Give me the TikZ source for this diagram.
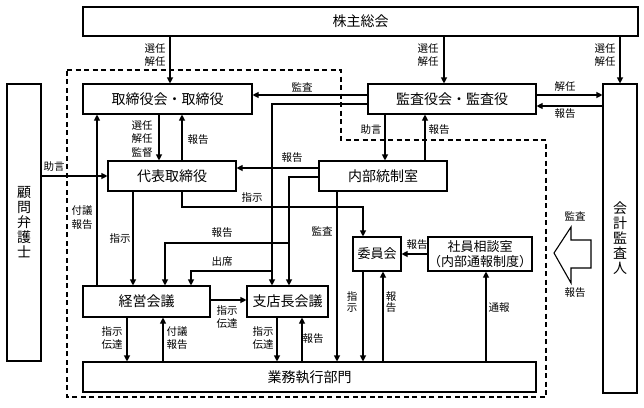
\documentclass[tikz,border=0pt]{standalone}
\usepackage{fontspec}
\newfontfamily\jp{Noto Sans CJK JP}
\usetikzlibrary{arrows.meta}
\begin{document}
\begin{tikzpicture}[x=1pt,y=-1pt,
  box/.style={draw,line width=1.1pt,fill=white,inner sep=0pt,font=\jp\fontsize{14}{15}\selectfont,align=center},
  sbox/.style={box,font=\jp\fontsize{13}{15}\selectfont},
  arr/.style={line width=1.1pt,-{Triangle[length=6pt,width=6pt]}},
  lbl/.style={inner sep=0pt,font=\jp\fontsize{10.5}{13.5}\selectfont,align=center},
  vlbl/.style={inner sep=0pt,font=\jp\fontsize{10.5}{11.5}\selectfont,align=center}]
\useasboundingbox (0,0) rectangle (644,407);
% dashed frame
\draw[line width=1.1pt,dash pattern=on 5pt off 3.5pt] (67,70) -- (341,70) -- (341,140) -- (546,140) -- (546,397) -- (67,397) -- cycle;
% boxes
\node[box,minimum width=555pt,minimum height=29pt] (kabu) at (360.5,21.5) {株主総会};
\node[box,minimum width=169pt,minimum height=30pt] (tori) at (167.5,99) {取締役会・取締役};
\node[box,minimum width=168pt,minimum height=30pt] (kansa) at (452,99) {監査役会・監査役};
\node[box,minimum width=34pt,minimum height=309pt] (kaikei) at (620,238.5) {会\\計\\監\\査\\人};
\node[box,minimum width=34pt,minimum height=277pt] (komon) at (24,222.5) {顧\\問\\弁\\護\\士};
\node[box,minimum width=128pt,minimum height=30pt] (daihyo) at (172,176) {代表取締役};
\node[box,minimum width=128pt,minimum height=30pt] (naibu) at (383,176) {内部統制室};
\node[box,minimum width=127pt,minimum height=31pt] (keiei) at (146.5,301.5) {経営会議};
\node[box,minimum width=81pt,minimum height=31pt] (shiten) at (287.5,301.5) {支店長会議};
\node[box,minimum width=453pt,minimum height=30pt] (gyomu) at (309.5,377) {業務執行部門};
\node[sbox,minimum width=48pt,minimum height=34pt] (iin) at (377,254) {委員会};
\node[sbox,minimum width=92pt,minimum height=34pt] (shain) at (480,254) {社員相談室\\（内部通報制度）};
% big hollow arrow
\draw[line width=1.1pt,fill=white] (554,253) -- (571,227) -- (571,240) -- (591,240) -- (591,268) -- (571,268) -- (571,283) -- cycle;
\node[lbl] (bk) at (575,216) {監査};
\node[lbl] (bh) at (575,293) {報告};
% connectors
\draw[arr] (kabu.south -| 170,0) -- (tori.north -| 170,0);
\node[lbl] at (155,55) {選任\\解任};
\draw[arr] (kabu.south -| 444,0) -- (kansa.north -| 444,0);
\node[lbl] at (428,55) {選任\\解任};
\draw[arr] (kabu.south -| kaikei.north) -- (kaikei.north);
\node[lbl] at (605,55) {選任\\解任};
\draw[arr] (kansa.west |- 0,95) -- (tori.east |- 0,95);
\node[lbl] at (302,87) {監査};
\draw[arr] (kansa.east |- 0,95) -- (kaikei.west |- 0,95);
\node[lbl] at (565,87) {解任};
\draw[arr] (kaikei.west |- 0,106) -- (kansa.east |- 0,106);
\node[lbl] at (565,114) {報告};
\draw[arr] (tori.south -| 159,0) -- (daihyo.north -| 159,0);
\node[lbl] at (142,139) {選任\\解任\\監督};
\draw[arr] (daihyo.north -| 182,0) -- (tori.south -| 182,0);
\node[lbl] at (198,140) {報告};
\draw[arr] (komon.east |- daihyo.west) -- (daihyo.west);
\node[lbl] at (54,167) {助言};
\draw[arr] (keiei.north -| 97,0) -- (tori.south -| 97,0);
\node[lbl] at (82,217.5) {付議\\報告};
\draw[arr] (daihyo.south -| 133,0) -- (keiei.north -| 133,0);
\node[lbl] at (120,239) {指示};
\draw[arr] (daihyo.south -| 182,0) -- (182,207) -- (363,207) -- (iin.north -| 363,0);
\node[lbl] at (252,198) {指示};
\draw[arr] (kansa.south -| 385,0) -- (naibu.north -| 385,0);
\node[lbl] at (371,130) {助言};
\draw[arr] (naibu.north -| 425,0) -- (kansa.south -| 425,0);
\node[lbl] at (439,130) {報告};
\draw[arr] (naibu.west |- 0,168) -- (daihyo.east |- 0,168);
\node[lbl] at (292,158) {報告};
\draw[arr] (kansa.west |- 0,104) -- (272,104) -- (shiten.north -| 272,0);
\draw[arr] (272,271) -- (191,271) -- (keiei.north -| 191,0);
\node[lbl] at (222,262) {出席};
\draw[arr] (naibu.west |- 0,177) -- (289,177) -- (shiten.north -| 289,0);
\draw[arr] (289,243) -- (165,243) -- (keiei.north -| 165,0);
\node[lbl] at (222,233) {報告};
\draw[arr] (naibu.south -| 337,0) -- (gyomu.north -| 337,0);
\node[lbl] at (322,231) {監査};
\draw[arr] (keiei.east |- 0,300) -- (shiten.west |- 0,300);
\node[lbl] at (227,317) {指示\\伝達};
\draw[arr] (keiei.south -| 127,0) -- (gyomu.north -| 127,0);
\node[lbl] at (112,338) {指示\\伝達};
\draw[arr] (gyomu.north -| 163,0) -- (keiei.south -| 163,0);
\node[lbl] at (177,338) {付議\\報告};
\draw[arr] (shiten.south -| 277,0) -- (gyomu.north -| 277,0);
\node[lbl] at (263,338) {指示\\伝達};
\draw[arr] (gyomu.north -| 302,0) -- (shiten.south -| 302,0);
\node[lbl] at (313,339) {報告};
\draw[arr] (iin.south -| 363,0) -- (gyomu.north -| 363,0);
\node[vlbl] at (352,302) {指\\示};
\draw[arr] (gyomu.north -| 383,0) -- (iin.south -| 383,0);
\node[vlbl] at (391,302) {報\\告};
\draw[arr] (gyomu.north -| 486,0) -- (shain.south -| 486,0);
\node[lbl] at (499,308) {通報};
\draw[arr] (shain.west) -- (iin.east);
\node[lbl] at (417,245) {報告};
\end{tikzpicture}
\end{document}
